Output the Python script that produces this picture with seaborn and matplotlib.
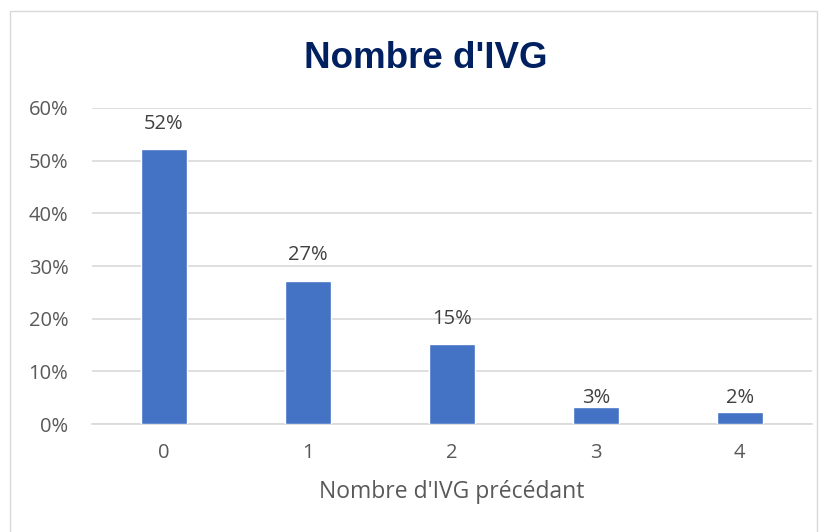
import matplotlib
matplotlib.use("Agg")
import matplotlib.pyplot as plt
import seaborn as sns
import pandas as pd
from matplotlib.patches import Rectangle

categories = ["0", "1", "2", "3", "4"]
shares = [0.522, 0.272, 0.152, 0.032, 0.022]
labels = ["52%", "27%", "15%", "3%", "2%"]
yticks = [0, 0.1, 0.2, 0.3, 0.4, 0.5, 0.6]

sns.set_style("white")
plt.rcParams['font.family'] = ['Open Sans', 'DejaVu Sans']

df = pd.DataFrame({"n": categories, "share": shares})

fig = plt.figure(figsize=(8.29, 5.32), dpi=100)
ax = fig.add_axes([0.111, 0.203, 0.868, 0.594])

sns.barplot(data=df, x="n", y="share", color="#4472C4", width=0.32,
            saturation=1, ax=ax, zorder=3)

# labels sit above the bar; the small ones are pushed up to a common height
for i, (v, t) in enumerate(zip(shares, labels)):
    y = v + 0.048 if v > 0.1 else 0.05
    ax.text(i, y, t, ha="center", va="center", fontsize=14.5, color="#404040")

ax.set_ylim(0, 0.6)
ax.set_xlim(-0.5, 4.5)
ax.set_yticks(yticks)
ax.set_yticklabels([f"{int(round(t * 100))}%" for t in yticks])
ax.yaxis.grid(True, color="#D9D9D9", linewidth=1.2, zorder=0)
ax.set_axisbelow(True)
for s in ["top", "right", "left"]:
    ax.spines[s].set_visible(False)
ax.spines["bottom"].set_color("#D9D9D9")
ax.spines["bottom"].set_linewidth(1.2)
ax.tick_params(axis="both", length=0, labelsize=14.5, labelcolor="#595959")
ax.tick_params(axis="x", pad=14)
ax.tick_params(axis="y", pad=17)
ax.set_ylabel("")
ax.set_xlabel("Nombre d'IVG précédant", fontsize=16.5, color="#595959", labelpad=12)

fig.text(0.513, 0.89, "Nombre d'IVG", ha="center", va="center", fontsize=26.5,
         fontweight="bold", color="#002060", family="Liberation Sans")

fig.patches.append(Rectangle((0.012, -0.01), 0.974, 0.99, transform=fig.transFigure,
                             fill=False, edgecolor="#D9D9D9", linewidth=1))

fig.savefig("out.png", dpi=100)
